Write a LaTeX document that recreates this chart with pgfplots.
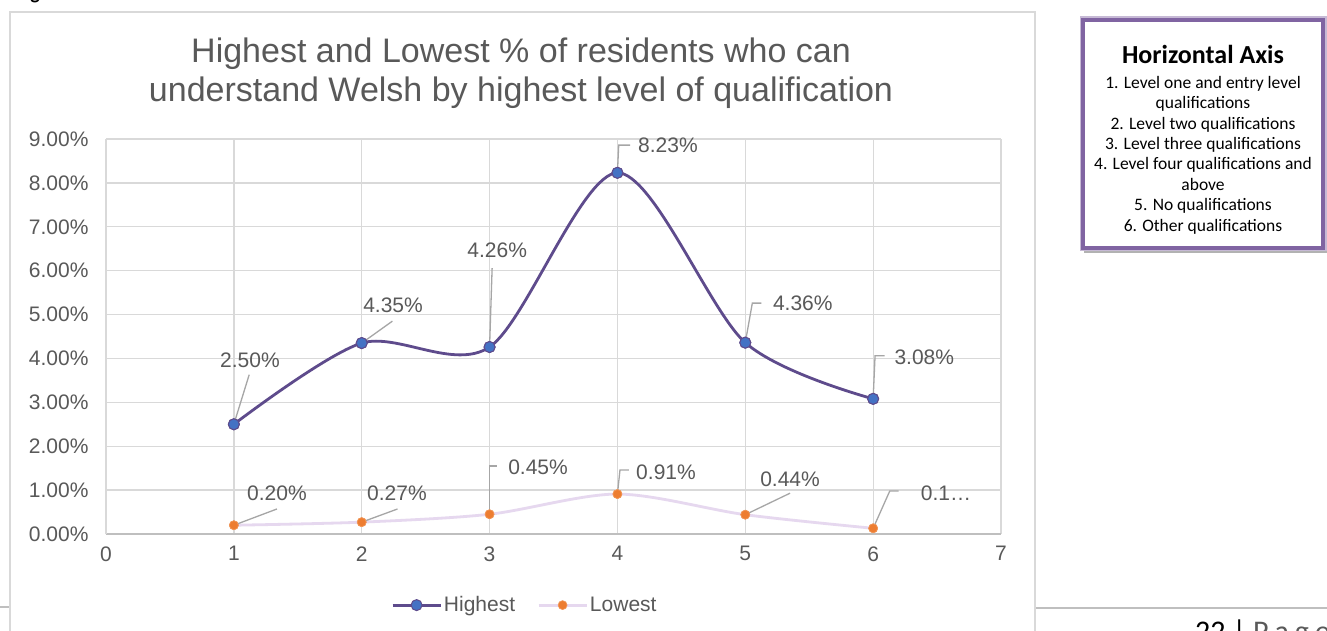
\documentclass[border=0pt]{standalone}
\usepackage{pgfplots}
\pgfplotsset{compat=1.18}
\usepackage{fontspec}
\setmainfont{Liberation Sans}
\newfontfamily\carlito{Carlito}
\definecolor{textgray}{HTML}{595959}
\definecolor{gridgray}{HTML}{D9D9D9}
\definecolor{axisgray}{HTML}{BFBFBF}
\definecolor{hiline}{HTML}{5E4B8C}
\definecolor{himark}{HTML}{4472C4}
\definecolor{loline}{HTML}{E6D8EF}
\definecolor{lomark}{HTML}{ED7D31}
\definecolor{leader}{HTML}{A6A6A6}
\definecolor{boxpurple}{HTML}{8064A2}
\tikzset{lbl/.style={text=textgray, font=\fontsize{21}{25}\selectfont, inner sep=0pt},
  ld/.style={leader, line width=1.3pt}}
\begin{document}
\begin{tikzpicture}
\path[use as bounding box] (0pt,0pt) rectangle (1327pt,630pt);
\clip (0pt,0pt) rectangle (1327pt,630pt);
\fill[white] (0pt,0pt) rectangle (1327pt,630pt);
% page footer line and heading remnant
\draw[axisgray, line width=1.2pt] (0pt,23pt) -- (10pt,23pt);
\draw[axisgray, line width=1.2pt] (1035pt,22pt) -- (1327pt,22pt);
\node[anchor=base west, inner sep=0pt, font=\carlito\bfseries\fontsize{20}{24}\selectfont] at (16pt,630pt) {Figure};
\node[anchor=base west, inner sep=0pt, font=\carlito\fontsize{30}{34}\selectfont] at (1195pt,-11pt) {22 | \textcolor{textgray}{P\hspace{6pt}a\hspace{6pt}g\hspace{6pt}e}};
% chart frame
\draw[gridgray, line width=1.5pt] (10pt,-10pt) -- (10pt,618pt) -- (1035pt,618pt) -- (1035pt,-10pt);
% title
\node[anchor=base, inner sep=0pt, text=textgray, font=\fontsize{34}{40}\selectfont] at (521pt,567pt) {Highest and Lowest \% of residents who can};
\node[anchor=base, inner sep=0pt, text=textgray, font=\fontsize{34}{40}\selectfont] at (521pt,528pt) {understand Welsh by highest level of qualification};
% side box
\draw[black!30, line width=4pt] (1086pt,379pt) rectangle (1326pt,607pt);
\draw[boxpurple!45, line width=7pt] (1083pt,382pt) rectangle (1323pt,610pt);
\draw[boxpurple, line width=3.5pt, fill=white] (1083pt,382pt) rectangle (1323pt,610pt);
\node[anchor=base, inner sep=0pt, font=\carlito\bfseries\fontsize{26}{30}\selectfont] at (1203pt,566pt) {Horizontal Axis};
\node[anchor=north, inner sep=0pt, align=center, font=\carlito\fontsize{17.5}{20.4}\selectfont] at (1203pt,554pt) {1. Level one and entry level\\qualifications\\2. Level two qualifications\\3. Level three qualifications\\4. Level four qualifications and\\above\\5. No qualifications\\6. Other qualifications};
\begin{axis}[
  at={(106pt,96pt)}, anchor=south west,
  scale only axis, width=895pt, height=395pt,
  xmin=0, xmax=7, ymin=0, ymax=9,
  xtick={0,...,7}, ytick={0,...,9},
  grid=major, grid style={gridgray, line width=1.3pt},
  axis lines*=left,
  x axis line style={axisgray, line width=1.6pt},
  y axis line style={gridgray, line width=1.3pt},
  major tick length=0pt,
  /pgf/number format/assume math mode=true,
  tick label style={text=textgray, font=\fontsize{21}{25}\selectfont},
  yticklabel={\pgfmathprintnumber[fixed,fixed zerofill,precision=2]{\tick}\%},
  xticklabel={\pgfmathprintnumber{\tick}},
  yticklabel shift=14pt,
  xticklabel shift=9pt,
  clip=false,
  legend style={at={(0.468,-0.18)}, anchor=center, draw=none, fill=none,
    font=\fontsize{21}{25}\selectfont, text=textgray, legend columns=2,
    /tikz/every even column/.append style={column sep=20pt}},
  legend image code/.code={\draw[mark repeat=2,mark phase=2,#1] plot coordinates {(0pt,0pt)(24pt,0pt)(48pt,0pt)};},
]
\addplot[hiline, line width=2.8pt, smooth, tension=0.5, mark=*, mark size=5.5pt,
  mark options={fill=himark, draw=hiline, line width=1pt}]
  coordinates {(1,2.50) (2,4.35) (3,4.26) (4,8.23) (5,4.36) (6,3.08)};
\addlegendentry{Highest}
\addplot[loline, line width=2.8pt, smooth, tension=0.5, mark=*, mark size=4.5pt,
  mark options={fill=lomark, draw=lomark!80!white, line width=0.6pt}]
  coordinates {(1,0.20) (2,0.27) (3,0.45) (4,0.91) (5,0.44) (6,0.13)};
\addlegendentry{Lowest}
% leader lines and data labels (Highest)
\draw[ld] (1,2.50) -- (1.12,3.63);
\node[lbl] at (1.126,3.96) {2.50\%};
\draw[ld] (2,4.35) -- (2.24,4.85);
\node[lbl] at (2.245,5.22) {4.35\%};
\draw[ld] (3,4.26) -- (3.02,6.06);
\node[lbl] at (3.06,6.47) {4.26\%};
\draw[ld] (4,8.23) -- (4.01,8.86) -- (4.10,8.86);
\node[lbl] at (4.395,8.86) {8.23\%};
\draw[ld] (5,4.36) -- (5.055,5.26) -- (5.125,5.26);
\node[lbl] at (5.45,5.26) {4.36\%};
\draw[ld] (6,3.08) -- (6.015,4.06) -- (6.09,4.06);
\node[lbl] at (6.40,4.03) {3.08\%};
% leader lines and data labels (Lowest)
\draw[ld] (1,0.20) -- (1.337,0.57);
\node[lbl] at (1.337,0.934) {0.20\%};
\draw[ld] (2,0.27) -- (2.28,0.57);
\node[lbl] at (2.276,0.934) {0.27\%};
\draw[ld] (3,0.45) -- (3,1.55) -- (3.06,1.55);
\node[lbl] at (3.379,1.526) {0.45\%};
\draw[ld] (4,0.91) -- (4.02,1.46) -- (4.09,1.46);
\node[lbl] at (4.38,1.41) {0.91\%};
\draw[ld] (5,0.44) -- (5.35,0.93);
\node[lbl] at (5.35,1.25) {0.44\%};
\draw[ld] (6,0.13) -- (6.13,0.98) -- (6.20,0.98);
\node[lbl] at (6.57,0.934) {0.1\ldots};
% redraw markers on top of leaders
\addplot[only marks, mark=*, mark size=5.5pt, mark options={fill=himark, draw=hiline, line width=1pt}, forget plot]
  coordinates {(1,2.50) (2,4.35) (3,4.26) (4,8.23) (5,4.36) (6,3.08)};
\addplot[only marks, mark=*, mark size=4.5pt, mark options={fill=lomark, draw=lomark!80!white, line width=0.6pt}, forget plot]
  coordinates {(1,0.20) (2,0.27) (3,0.45) (4,0.91) (5,0.44) (6,0.13)};
\end{axis}
\end{tikzpicture}
\end{document}
